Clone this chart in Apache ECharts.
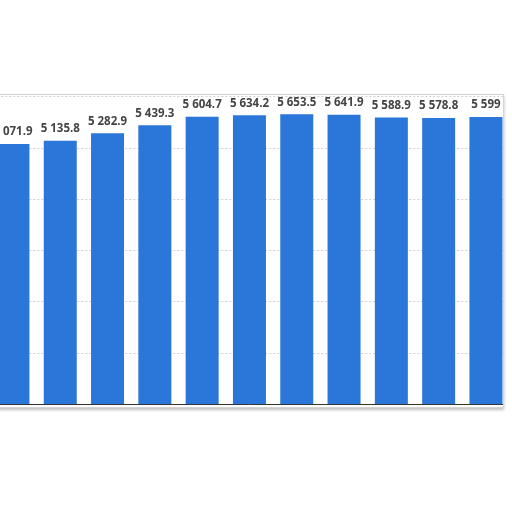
<!DOCTYPE html>
<html>
<head>
    <meta charset="utf-8">
    <title>bar chart</title>
    <script src="https://cdn.jsdelivr.net/npm/echarts@6/dist/echarts.min.js"></script>
    <style>
        html, body {
            margin: 0;
            padding: 0;
            width: 512px;
            height: 512px;
            background: #fff;
            overflow: hidden;
        }
        .panel {
            position: absolute;
            left: -30px;
            top: 94px;
            width: 532px;
            height: 312px;
            background: #fff;
            overflow: hidden;
            border: 1px solid #d4d4d4;
            box-shadow: 0 2px 3px rgba(0, 0, 0, 0.25);
        }
        #chart {
            width: 580px;
            height: 312px;
        }
    </style>
</head>
<body>
<div class="panel">
    <div id="chart"></div>
</div>
<script>
    // values (first one only partly visible)
    var categories = ['1', '2', '3', '4', '5', '6', '7', '8', '9', '10', '11'];
    var values = [5071.9, 5135.8, 5282.9, 5439.3, 5604.7, 5634.2, 5653.5, 5641.9, 5588.9, 5578.8, 5599];
    var yTicks = [0, 1000, 2000, 3000, 4000, 5000, 6000];

    function fmt(v) {
        var parts = String(v).split('.');
        var s = parts[0].replace(/\B(?=(\d{3})+(?!\d))/g, ' ');
        return parts.length > 1 ? s + '.' + parts[1] : s;
    }

    var chart = echarts.init(document.getElementById('chart'));
    var option = {
        animation: false,
        grid: {
            left: 18.3,
            top: 1.5,
            width: 520.3,
            height: 307.5
        },
        xAxis: {
            type: 'category',
            data: categories,
            axisLine: { lineStyle: { color: '#333', width: 1 } },
            axisTick: { show: false },
            axisLabel: { show: false }
        },
        yAxis: {
            type: 'value',
            min: yTicks[0],
            max: yTicks[yTicks.length - 1],
            interval: 1000,
            axisLine: { show: false },
            axisTick: { show: false },
            axisLabel: { show: false },
            splitLine: {
                lineStyle: { color: '#d0d0d0', type: [2, 2], width: 1 }
            }
        },
        series: [{
            type: 'bar',
            data: values,
            barWidth: 33,
            itemStyle: { color: '#2b76d9' },
            label: {
                show: true,
                position: 'top',
                distance: 6,
                color: '#444',
                fontFamily: 'Open Sans',
                fontWeight: 'bold',
                fontSize: 11.5,
                formatter: function (p) { return fmt(p.value); }
            }
        }]
    };
    chart.setOption(option);
</script>
</body>
</html>
